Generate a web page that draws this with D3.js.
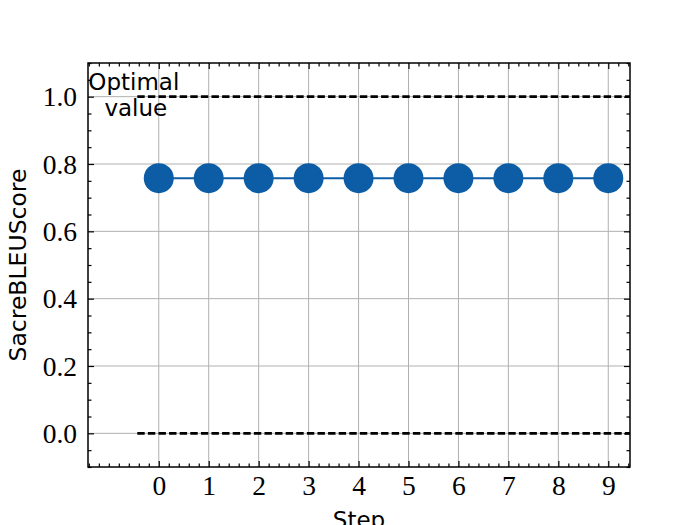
<!DOCTYPE html>
<html><head><meta charset="utf-8">
<script src="https://cdn.jsdelivr.net/npm/d3@7"></script>
<style>body{margin:0;background:#fff}svg{display:block}</style>
</head><body>
<script>
const steps = [0,1,2,3,4,5,6,7,8,9];
const scores = [0.758,0.758,0.758,0.758,0.758,0.758,0.758,0.758,0.758,0.758];
const optimalValues = [1.0, 0.0];
const xTicks = [0,1,2,3,4,5,6,7,8,9];
const yTicks = [0.0,0.2,0.4,0.6,0.8,1.0];

const W=700,H=525;
const m={l:88,r:70,t:63,b:58};
const svg=d3.select("body").append("svg").attr("width",W).attr("height",H);
const x=d3.scaleLinear().domain([-1.417,9.435]).range([m.l,W-m.r]);
const y=d3.scaleLinear().domain([-0.1,1.1]).range([H-m.b,m.t]);

const g=svg.append("g");
// grid
g.selectAll(".gx").data(xTicks).join("line").attr("x1",d=>x(d)).attr("x2",d=>x(d))
 .attr("y1",m.t).attr("y2",H-m.b).attr("stroke","#b0b0b0").attr("stroke-width",1);
g.selectAll(".gy").data(yTicks).join("line").attr("y1",d=>y(d)).attr("y2",d=>y(d))
 .attr("x1",m.l).attr("x2",W-m.r).attr("stroke","#b0b0b0").attr("stroke-width",1);

// dashed optimal lines
g.selectAll(".opt").data(optimalValues).join("line")
 .attr("x1",x(-0.43)).attr("x2",x(9.435)).attr("y1",d=>y(d)).attr("y2",d=>y(d))
 .attr("stroke","#000").attr("stroke-width",2.6).attr("stroke-dasharray","7.4,3.2");

// series
const line=d3.line().x((d,i)=>x(steps[i])).y(d=>y(d));
g.append("path").datum(scores).attr("d",line).attr("fill","none").attr("stroke","#0C5DA5").attr("stroke-width",2);
g.selectAll(".pt").data(scores).join("circle").attr("cx",(d,i)=>x(steps[i])).attr("cy",d=>y(d)).attr("r",15).attr("fill","#0C5DA5");

// axes with inward ticks
const xMinor=d3.range(-14,95,2).map(v=>v/10).filter(v=>!xTicks.includes(v));
const yMinor=d3.range(-2,23,1).map(v=>v/20).filter(v=>Math.round(v*20)%4!==0);
function tickAxis(axisFn, scale, vals, size, fmt){
  return axisFn(scale).tickValues(vals).tickSizeInner(-size).tickSizeOuter(0).tickFormat(fmt);
}
const fontSerif="'Liberation Serif','DejaVu Serif',serif";
// bottom
const xb=svg.append("g").attr("transform",`translate(0,${H-m.b})`).call(tickAxis(d3.axisBottom,x,xTicks,6,d=>d3.format("d")(d)));
xb.append("g").call(tickAxis(d3.axisBottom,x,xMinor,3.5,""));
// top
const xt=svg.append("g").attr("transform",`translate(0,${m.t})`).call(tickAxis(d3.axisTop,x,xTicks,6,""));
xt.append("g").call(tickAxis(d3.axisTop,x,xMinor,3.5,""));
// left
const yl=svg.append("g").attr("transform",`translate(${m.l},0)`).call(tickAxis(d3.axisLeft,y,yTicks,6,d=>d3.format(".1f")(d)));
yl.append("g").call(tickAxis(d3.axisLeft,y,yMinor,3.5,""));
// right
const yr=svg.append("g").attr("transform",`translate(${W-m.r},0)`).call(tickAxis(d3.axisRight,y,yTicks,6,""));
yr.append("g").call(tickAxis(d3.axisRight,y,yMinor,3.5,""));

svg.selectAll(".domain").remove();
svg.selectAll(".tick line").attr("stroke","#000").attr("stroke-width",1.2);
xb.selectAll(".tick text").style("font-family",fontSerif).style("font-size","27.5px").attr("fill","#000").attr("dy","0").attr("y",28);
yl.selectAll(".tick text").style("font-family",fontSerif).style("font-size","27.5px").attr("fill","#000").attr("x",-11).attr("dy","0.33em");

// frame
svg.append("rect").attr("x",m.l).attr("y",m.t).attr("width",W-m.r-m.l).attr("height",H-m.b-m.t)
 .attr("fill","none").attr("stroke","#000").attr("stroke-width",1.5);

const fontSans="'DejaVu Sans',sans-serif";
// annotation
const ann=svg.append("text").attr("font-family",fontSans).attr("font-size",23).attr("text-anchor","middle").attr("fill","#000");
ann.append("tspan").attr("x",x(-0.5)).attr("y",90).text("Optimal");
ann.append("tspan").attr("x",x(-0.5)+2).attr("y",116).text("value");

// axis labels
svg.append("text").attr("font-family",fontSans).attr("font-size",23.5).attr("text-anchor","middle")
 .attr("transform",`translate(26,${(m.t+H-m.b)/2}) rotate(-90)`).text("SacreBLEUScore");
svg.append("text").attr("font-family",fontSans).attr("font-size",23).attr("text-anchor","middle")
 .attr("x",(m.l+W-m.r)/2).attr("y",528).text("Step");
</script>
</body></html>
